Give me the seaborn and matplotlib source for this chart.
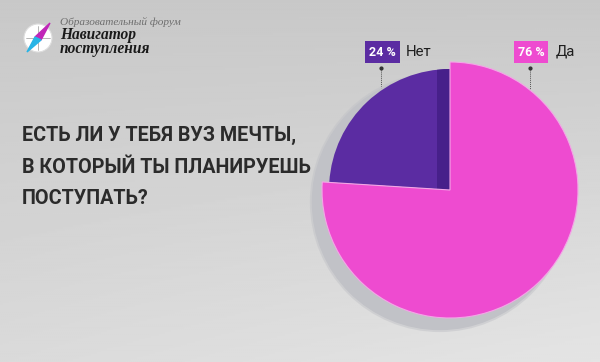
import numpy as np
import matplotlib
matplotlib.use("Agg")
import matplotlib.pyplot as plt
import seaborn as sns
from matplotlib.patches import Circle, Polygon, Rectangle

# data
labels = ["Да", "Нет"]
shares = [76, 24]
colors = ["#ee4bd0", "#5b2ca2"]
question = "ЕСТЬ ЛИ У ТЕБЯ ВУЗ МЕЧТЫ,\nВ КОТОРЫЙ ТЫ ПЛАНИРУЕШЬ\nПОСТУПАТЬ?"
forum_small = "Образовательный форум"
forum_big = "Навигатор\nпоступления"

sns.set_theme(style="white")
plt.rcParams["font.family"] = ["Roboto", "DejaVu Sans"]

W, H = 600, 362
fig = plt.figure(figsize=(W / 100, H / 100), dpi=100)

# background in pixel coordinates
bg = fig.add_axes([0, 0, 1, 1])
bg.set_xlim(0, W)
bg.set_ylim(H, 0)
bg.axis("off")
yy, xx = np.mgrid[0:1:200j, 0:1:300j]
shade = 0.785 + 0.07 * yy + 0.04 * yy * xx
bg.imshow(shade, cmap="gray", vmin=0, vmax=1, extent=[0, W, H, 0], aspect="auto", zorder=0)

# logo
bg.add_patch(Circle((38, 38), 14, facecolor="white", edgecolor="#dddddd", lw=0.8, zorder=2))
bg.plot([38, 38], [26, 50], color="#999999", lw=0.5, zorder=3)
bg.plot([26, 50], [38, 38], color="#999999", lw=0.5, zorder=3)
bg.add_patch(Polygon([(35, 37), (50, 23), (41, 40)], closed=True, color="#c026b8", zorder=4))
bg.add_patch(Polygon([(35, 37), (41, 40), (27, 52)], closed=True, color="#28b4e6", zorder=4))
bg.text(60, 22, forum_small, fontsize=8.1, style="italic", color="#6e6e6e",
        family=["Liberation Serif"], va="center", ha="left")
bg.text(60, 42, forum_big, fontsize=11.2, style="italic", weight="bold", color="#1a1a1a",
        family=["Liberation Serif"], va="center", ha="left", linespacing=0.9)

# question
bg.text(22, 167, question, fontsize=14.2, weight="bold", color="#2b2b2b",
        va="center", ha="left", linespacing=1.85)

# pie axes: centre (450, 190), radius 128 px
R, pad = 128, 150
ax = fig.add_axes([(450 - pad) / W, (H - 190 - pad) / H, 2 * pad / W, 2 * pad / H])
ax.set_aspect("equal")
ax.axis("off")

ax.add_patch(Circle((-0.08, -0.095), 1.0, facecolor="#c1c2c7", edgecolor="none", zorder=0))
ax.add_patch(Circle((-0.08, -0.095), 1.015, facecolor="#c1c2c7", edgecolor="none", alpha=0.5, zorder=0))

# smaller slice, slightly recessed, with a darker side band
w_small, _ = ax.pie(shares, startangle=90, counterclock=False, radius=0.945,
                    colors=["none", colors[1]], wedgeprops=dict(linewidth=0, zorder=1))
w_small[0].set_visible(False)
side = Rectangle((-0.1, -0.2), 0.1, 1.3, facecolor="#47208a", edgecolor="none", zorder=2)
ax.add_patch(side)
side.set_clip_path(w_small[1])

w_main, _ = ax.pie(shares, startangle=90, counterclock=False, radius=1.0,
                   colors=[colors[0], "none"],
                   wedgeprops=dict(linewidth=0.8, edgecolor="#f3a6e6", zorder=3))
w_main[1].set_visible(False)
ax.set_xlim(-pad / R, pad / R)
ax.set_ylim(-pad / R, pad / R)

# labels with dotted leaders (pixel coordinates)
label_pos = {"Нет": (382, 406), "Да": (531, 556)}
for lab, val, col in zip(labels, shares, colors):
    bx, tx = label_pos[lab]
    bg.text(bx, 52, f"{val} %", fontsize=9, weight="bold", color="white",
            ha="center", va="center", zorder=6,
            bbox=dict(boxstyle="square,pad=0.33", facecolor=col, edgecolor="none"))
    bg.text(tx, 52, lab, fontsize=10.8, color="#1e1e1e", ha="left", va="center", zorder=6)
    bg.plot([bx - 1, bx - 1], [68, 94 if lab == "Да" else 89], color="#555555", lw=0.7,
            ls=(0, (1, 1)), zorder=7)
    bg.plot([bx - 1], [68], marker="o", ms=2, color="#333333", zorder=7)

fig.savefig("out.png", dpi=100)
